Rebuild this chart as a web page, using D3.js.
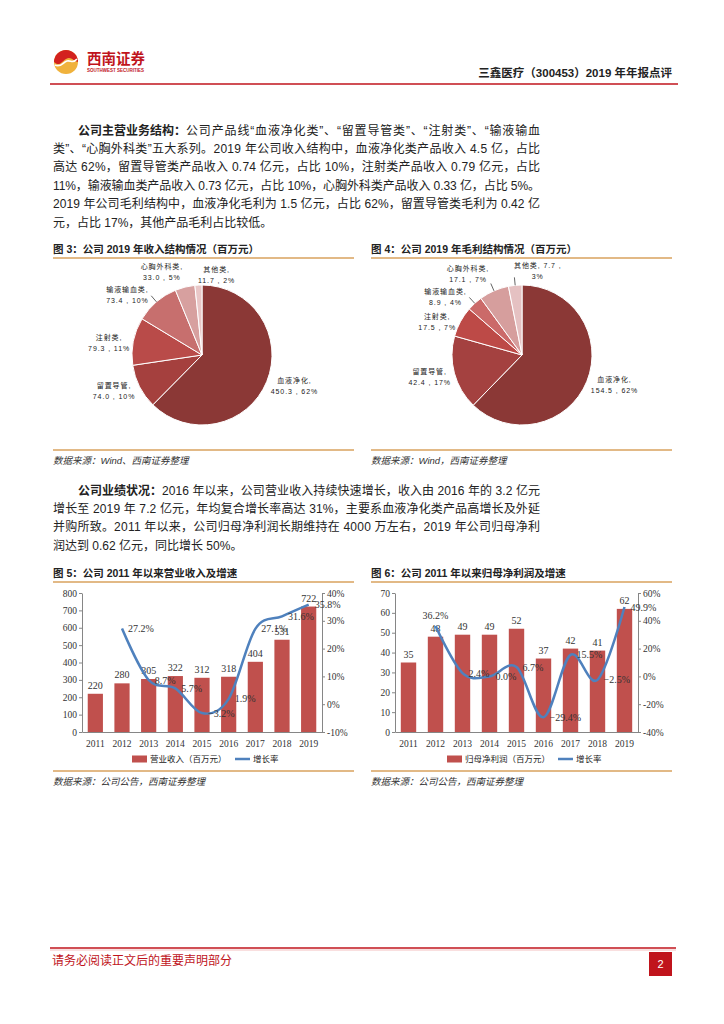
<!DOCTYPE html>
<html>
<head>
<meta charset="utf-8">
<script src="https://cdn.jsdelivr.net/npm/d3@7"></script>
<style>
body{margin:0;background:#fff}
svg{display:block}
text{font-family:"Liberation Sans","Noto Sans CJK SC",sans-serif;fill:#222}
</style>
</head>
<body>
<svg id="page" width="724" height="1024"></svg>
<script>
// ---- data ----
var pieCats = ['血液净化', '留置导管', '注射类', '输液输血类', '心胸外科类', '其他类'];
var revVals = [450.3, 74.0, 79.3, 73.4, 33.0, 11.7];
var revPct = ['62%', '10%', '11%', '10%', '5%', '2%'];
var gpVals = [154.5, 42.4, 17.5, 8.9, 17.1, 7.7];
var gpPct = ['62%', '17%', '7%', '4%', '7%', '3%'];

var years = ['2011', '2012', '2013', '2014', '2015', '2016', '2017', '2018', '2019'];
var revenue = [220, 280, 305, 322, 312, 318, 404, 531, 722];
var revGrowth = [null, 27.2, 8.7, 5.7, -3.2, 1.9, 27.1, 31.6, 35.8];
var profit = [35, 48, 49, 49, 52, 37, 42, 41, 62];
var profitGrowth = [null, 36.2, 2.4, 0.0, 6.7, -29.4, 15.5, -2.5, 49.9];

var revTicks = [0, 100, 200, 300, 400, 500, 600, 700, 800];
var revGrowthTicks = [-10, 0, 10, 20, 30, 40];
var profitTicks = [0, 10, 20, 30, 40, 50, 60, 70];
var profitGrowthTicks = [-40, -20, 0, 20, 40, 60];

var para1 = [
  ['公司主营业务结构：', '公司产品线“血液净化类”、“留置导管类”、“注射类”、“输液输血'],
  ['', '类”、“心胸外科类”五大系列。2019 年公司收入结构中，血液净化类产品收入 4.5 亿，占比'],
  ['', '高达 62%，留置导管类产品收入 0.74 亿元，占比 10%，注射类产品收入 0.79 亿元，占比'],
  ['', '11%，输液输血类产品收入 0.73 亿元，占比 10%，心胸外科类产品收入 0.33 亿，占比 5%。'],
  ['', '2019 年公司毛利结构中，血液净化毛利为 1.5 亿元，占比 62%，留置导管类毛利为 0.42 亿'],
  ['', '元，占比 17%，其他产品毛利占比较低。']
];
var para2 = [
  ['公司业绩状况：', '2016 年以来，公司营业收入持续快速增长，收入由 2016 年的 3.2 亿元'],
  ['', '增长至 2019 年 7.2 亿元，年均复合增长率高达 31%，主要系血液净化类产品高增长及外延'],
  ['', '并购所致。2011 年以来，公司归母净利润长期维持在 4000 万左右，2019 年公司归母净利'],
  ['', '润达到 0.62 亿元，同比增长 50%。']
];

var red = '#c0141c', gold = '#d9a25e';
var svg = d3.select('#page');

// ---- header ----
var logo = svg.append('g').attr('transform', 'translate(66,62)');
logo.append('circle').attr('r', 12).attr('fill', '#f0b23c');
logo.append('path')
  .attr('d', 'M-12,0 A12,12 0 0 1 12,0 C7,-1 5,-6 0,-3 C-5,0 -6,5 -12,0 Z')
  .attr('fill', '#d3221f');
logo.append('path')
  .attr('d', 'M-11,3 C-5,6 -3,0 1,-1 C5,-2 7,2 11,-3')
  .attr('fill', 'none').attr('stroke', '#fff').attr('stroke-width', 1.6);
svg.append('text').attr('x', 87).attr('y', 64).text('西南证券')
  .style('fill', red).style('font-size', '14.5px').style('font-weight', 700);
svg.append('text').attr('x', 87).attr('y', 72).text('SOUTHWEST SECURITIES')
  .attr('textLength', 57).attr('lengthAdjust', 'spacingAndGlyphs')
  .style('fill', red).style('font-size', '4.5px').style('font-weight', 700);
svg.append('text').attr('x', 672).attr('y', 77).attr('text-anchor', 'end')
  .text('三鑫医疗（300453）2019 年年报点评')
  .style('font-size', '11.5px').style('font-weight', 700);
svg.append('line').attr('x1', 50).attr('x2', 678).attr('y1', 84).attr('y2', 84)
  .attr('stroke', red).attr('stroke-width', 1.5);

// ---- footer ----
svg.append('line').attr('x1', 50).attr('x2', 676).attr('y1', 948).attr('y2', 948)
  .attr('stroke', red).attr('stroke-width', 1.5);
svg.append('line').attr('x1', 50).attr('x2', 676).attr('y1', 950).attr('y2', 950)
  .attr('stroke', '#f0b0b0').attr('stroke-width', 0.8);
svg.append('text').attr('x', 52).attr('y', 965).text('请务必阅读正文后的重要声明部分')
  .style('fill', red).style('font-size', '12px');
svg.append('rect').attr('x', 649).attr('y', 952).attr('width', 23).attr('height', 24).attr('fill', red);
svg.append('text').attr('x', 660.5).attr('y', 968).attr('text-anchor', 'middle').text('2')
  .style('fill', '#fff').style('font-size', '11px');

// ---- paragraphs ----
function paragraph(lines, y0, lh) {
  lines.forEach(function(l, i) {
    var x = i === 0 ? 78 : 53;
    var y = y0 + i * lh;
    if (l[0]) {
      var b = svg.append('text').attr('x', x).attr('y', y).text(l[0])
        .style('font-size', '12px').style('font-weight', 700);
      x += b.node().getComputedTextLength();
    }
    var t = svg.append('text').attr('x', x).attr('y', y).text(l[1]).style('font-size', '12px');
    if (i < lines.length - 1) t.attr('textLength', 540 - x).attr('lengthAdjust', 'spacing');
  });
}
paragraph(para1, 134.5, 18.4);
paragraph(para2, 494.5, 18.4);

// ---- figure frames ----
function frame(x, yTitle, yTop, yBottom, title, source) {
  svg.append('text').attr('x', x).attr('y', yTitle).text(title)
    .style('font-size', '10.5px').style('font-weight', 700);
  svg.append('line').attr('x1', x).attr('x2', x + 301).attr('y1', yTop).attr('y2', yTop)
    .attr('stroke', gold).attr('stroke-width', 1.5);
  svg.append('line').attr('x1', x).attr('x2', x + 301).attr('y1', yBottom).attr('y2', yBottom)
    .attr('stroke', gold).attr('stroke-width', 1.5);
  svg.append('text').attr('x', x).attr('y', yBottom + 14).text(source)
    .style('font-size', '9.5px').style('font-style', 'italic').style('fill', '#333');
}
frame(53, 253, 258, 450, '图 3：公司 2019 年收入结构情况（百万元）', '数据来源：Wind、西南证券整理');
frame(371, 253, 258, 450, '图 4：公司 2019 年毛利结构情况（百万元）', '数据来源：Wind，西南证券整理');
frame(53, 577, 582, 771, '图 5：公司 2011 年以来营业收入及增速', '数据来源：公司公告，西南证券整理');
frame(371, 577, 582, 771, '图 6：公司 2011 年以来归母净利润及增速', '数据来源：公司公告，西南证券整理');

// ---- pies ----
function drawPie(cx, cy, r, vals, colors, line1, line2, leaders) {
  var g = svg.append('g').attr('transform', 'translate(' + cx + ',' + cy + ')');
  var arcs = d3.pie().sort(null).value(function(d) { return d; })(vals);
  var arc = d3.arc().innerRadius(0).outerRadius(r);
  g.selectAll('path').data(arcs).enter().append('path')
    .attr('d', arc).attr('fill', function(d, i) { return colors[i]; })
    .attr('stroke', '#fff').attr('stroke-width', 1);

  var boxes = [];
  arcs.forEach(function(a, i) {
    var mid = (a.startAngle + a.endAngle) / 2;
    var s = Math.sin(mid), c = Math.cos(mid);
    var lr = r + (leaders[i] ? 12 : 8 - 5 * Math.pow(s, 4));
    var px = lr * s, py = -lr * c;
    if (leaders[i]) {
      g.append('line').attr('x1', r * s).attr('y1', -r * c)
        .attr('x2', (r + 8) * s).attr('y2', -(r + 8) * c)
        .attr('stroke', '#222').attr('stroke-width', 0.7);
    }
    var lg = g.append('g');
    var t1 = lg.append('text').attr('text-anchor', 'middle').attr('y', -2.5).text(line1[i]);
    var t2 = lg.append('text').attr('text-anchor', 'middle').attr('y', 8.5).text(line2[i]);
    lg.selectAll('text').style('font-size', '7px').style('letter-spacing', '0.9px');
    var w = Math.max(t1.node().getComputedTextLength(), t2.node().getComputedTextLength());
    var bx, by = py + 2;
    if (s > 0.15) bx = px + w / 2;
    else if (s < -0.15) bx = px - w / 2;
    else { bx = px + w / 2; by = py - 3; }
    // nudge away from the label placed before it when the two blocks collide
    var h = 23, top = by - 11, bot = top + h;
    boxes.forEach(function(b) {
      if (bx - w / 2 < b.x1 && bx + w / 2 > b.x0 && top < b.y1 && bot > b.y0) {
        var shift = by < (b.y0 + b.y1) / 2 ? b.y0 - bot : b.y1 - top;
        by += shift; top += shift; bot += shift;
      }
    });
    boxes.push({x0: bx - w / 2, x1: bx + w / 2, y0: top, y1: bot});
    lg.attr('transform', 'translate(' + bx + ',' + by + ')');
  });
}
var revLine1 = pieCats.map(function(c) { return c + ','; });
var revLine2 = revVals.map(function(v, i) { return v.toFixed(1) + ' , ' + revPct[i]; });
var gpLine1 = pieCats.map(function(c) { return c + ','; });
var gpLine2 = gpVals.map(function(v, i) { return v.toFixed(1) + ' , ' + gpPct[i]; });
gpLine1[5] = pieCats[5] + ', ' + gpVals[5].toFixed(1) + ' ,';
gpLine2[5] = gpPct[5];

drawPie(202, 355, 70, revVals,
  ['#8b3836', '#a5403e', '#b94b49', '#c76f6e', '#d7a09f', '#e9c7c7'],
  revLine1, revLine2, [0, 0, 0, 1, 0, 0]);
drawPie(522, 355, 70, gpVals,
  ['#8b3836', '#a44140', '#bd4a47', '#cb6a69', '#d69e9d', '#e5c1c2'],
  gpLine1, gpLine2, [0, 0, 0, 1, 1, 1]);

// ---- combo charts ----
function drawCombo(o) {
  var g = svg.append('g');
  var x = d3.scaleBand().domain(years).range([o.x0, o.x1]).padding(0);
  var yL = d3.scaleLinear().domain([o.lt[0], o.lt[o.lt.length - 1]]).range([o.yB, o.yT]);
  var yR = d3.scaleLinear().domain([o.rt[0], o.rt[o.rt.length - 1]]).range([o.yB, o.yT]);
  var bw = x.bandwidth() * 0.57;

  g.selectAll('rect.bar').data(o.bars).enter().append('rect')
    .attr('x', function(d, i) { return x(years[i]) + (x.bandwidth() - bw) / 2; })
    .attr('y', function(d) { return yL(d); })
    .attr('width', bw).attr('height', function(d) { return o.yB - yL(d); })
    .attr('fill', '#c0504d');

  var axL = g.append('g').attr('transform', 'translate(' + o.x0 + ',0)')
    .call(d3.axisLeft(yL).tickValues(o.lt).tickSize(3).tickSizeOuter(0).tickPadding(2));
  var axR = g.append('g').attr('transform', 'translate(' + o.x1 + ',0)')
    .call(d3.axisRight(yR).tickValues(o.rt).tickSize(3).tickSizeOuter(0).tickPadding(2)
      .tickFormat(function(d) { return d + '%'; }));
  var axB = g.append('g').attr('transform', 'translate(0,' + o.yB + ')')
    .call(d3.axisBottom(x).tickSize(0).tickPadding(8));
  [axL, axR, axB].forEach(function(a) {
    a.selectAll('path,line').attr('stroke', '#868686');
    a.selectAll('text').style('font-family', '"Liberation Serif",serif')
      .style('font-size', '9.5px').style('fill', '#333');
  });

  g.selectAll('text.bl').data(o.bars).enter().append('text')
    .attr('x', function(d, i) { return x(years[i]) + x.bandwidth() / 2; })
    .attr('y', function(d) { return yL(d) - 5; })
    .attr('text-anchor', 'middle').text(function(d) { return d; })
    .style('font-family', '"Liberation Serif",serif').style('font-size', '10px').style('fill', '#333');

  var pts = o.growth.map(function(v, i) { return {v: v, i: i}; })
    .filter(function(d) { return d.v !== null; });
  var line = d3.line()
    .x(function(d) { return x(years[d.i]) + x.bandwidth() / 2; })
    .y(function(d) { return yR(d.v); })
    .curve(d3.curveCatmullRom.alpha(0));
  g.append('path').datum(pts).attr('d', line)
    .attr('fill', 'none').attr('stroke', '#4f81bd').attr('stroke-width', 2.5);

  g.selectAll('text.gl').data(pts).enter().append('text')
    .each(function(d) {
      var cx = x(years[d.i]) + x.bandwidth() / 2, cy = yR(d.v);
      var t = d3.select(this).text(d3.format('.1f')(d.v) + '%')
        .style('font-family', '"Liberation Serif",serif').style('font-size', '10px').style('fill', '#333');
      if (o.above.indexOf(d.i) >= 0) t.attr('x', cx).attr('y', cy - 7).attr('text-anchor', 'middle');
      else t.attr('x', cx + 6).attr('y', cy + 3.5);
    });

  // legend
  var ly = o.yB + 27;
  g.append('rect').attr('x', o.legX).attr('y', ly - 3.5).attr('width', 15).attr('height', 7).attr('fill', '#c0504d');
  g.append('text').attr('x', o.legX + 18).attr('y', ly + 3).text(o.barName).style('font-size', '8.5px');
  g.append('line').attr('x1', o.legX2).attr('x2', o.legX2 + 15).attr('y1', ly).attr('y2', ly)
    .attr('stroke', '#4f81bd').attr('stroke-width', 2.5);
  g.append('text').attr('x', o.legX2 + 18).attr('y', ly + 3).text('增长率').style('font-size', '8.5px');
}

drawCombo({x0: 82, x1: 322, yT: 593, yB: 732, bars: revenue, growth: revGrowth,
  lt: revTicks, rt: revGrowthTicks, above: [], legX: 132, legX2: 235, barName: '营业收入（百万元）'});
drawCombo({x0: 395, x1: 638, yT: 593, yB: 732, bars: profit, growth: profitGrowth,
  lt: profitTicks, rt: profitGrowthTicks, above: [1], legX: 447, legX2: 558, barName: '归母净利润（百万元）'});
</script>
</body>
</html>
